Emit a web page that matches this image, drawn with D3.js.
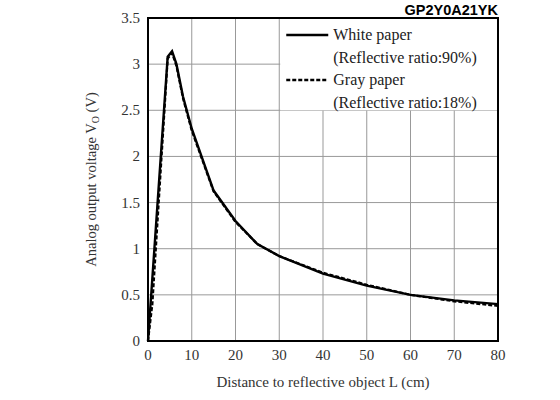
<!DOCTYPE html><html><head><meta charset="utf-8"><script src="https://cdn.jsdelivr.net/npm/d3@7"></script>
<style>body{margin:0;background:#fff}</style></head><body><svg id="c" width="560" height="400"></svg>
<script>
const xTicks=[0,10,20,30,40,50,60,70,80];
const yTicks=[0,0.5,1,1.5,2,2.5,3,3.5];
const whiteX=[0,4.5,5.5,6.5,8,10,15,20,25,30,40,50,60,70,80];
const whiteY=[0,3.08,3.14,3.0,2.65,2.3,1.63,1.3,1.05,0.92,0.73,0.6,0.5,0.44,0.4];
const grayX=[0,1,4.5,5.5,6.5,8,10,15,20,25,30,40,50,60,70,80];
const grayY=[0,0.4,3.06,3.12,2.98,2.63,2.28,1.62,1.29,1.05,0.92,0.74,0.61,0.5,0.43,0.38];
const svg=d3.select("#c");
const L=148,R=498,T=18,B=341;
const x=d3.scaleLinear().domain([0,80]).range([L,R]);
const y=d3.scaleLinear().domain([0,3.5]).range([B,T]);
const g=svg.append("g");
xTicks.slice(1,-1).forEach(t=>g.append("line").attr("x1",x(t)).attr("x2",x(t)).attr("y1",T).attr("y2",B).attr("stroke","#999"));
yTicks.slice(1,-1).forEach(t=>g.append("line").attr("x1",L).attr("x2",R).attr("y1",y(t)).attr("y2",y(t)).attr("stroke","#999"));
svg.append("rect").attr("x",x(30)+1).attr("y",T+1).attr("width",x(80)-x(30)-2).attr("height",y(2.5)-T-1).attr("fill","#fff");
const line=(xs,ys)=>d3.line().x((d,i)=>x(xs[i])).y(d=>y(d))(ys);
svg.append("path").attr("d",line(grayX,grayY)).attr("fill","none").attr("stroke","#000").attr("stroke-width",2.2).attr("stroke-dasharray","4,2");
svg.append("path").attr("d",line(whiteX,whiteY)).attr("fill","none").attr("stroke","#000").attr("stroke-width",2.4);
svg.append("rect").attr("x",L).attr("y",T).attr("width",R-L).attr("height",B-T).attr("fill","none").attr("stroke","#000").attr("stroke-width",2);
const f="'Liberation Serif',serif";
xTicks.forEach(t=>svg.append("text").attr("x",x(t)).attr("y",B+19).attr("text-anchor","middle").attr("font-family",f).attr("font-size",15).attr("fill","#333").text(t));
yTicks.forEach(t=>svg.append("text").attr("x",L-8).attr("y",y(t)+5).attr("text-anchor","end").attr("font-family",f).attr("font-size",15).attr("fill","#333").text(t));
svg.append("text").attr("x",(L+R)/2).attr("y",387).attr("text-anchor","middle").attr("font-family",f).attr("font-size",15).attr("fill","#333").text("Distance to reflective object L (cm)");
const yl=svg.append("text").attr("transform",`translate(96,${(T+B)/2}) rotate(-90)`).attr("text-anchor","middle").attr("font-family",f).attr("font-size",14.5).attr("fill","#333");
yl.append("tspan").text("Analog output voltage V");yl.append("tspan").attr("font-size",10).attr("dy",3).text("O");yl.append("tspan").attr("dy",-3).text(" (V)");
svg.append("text").attr("x",R).attr("y",15).attr("text-anchor","end").attr("font-family","'Liberation Sans',Arial,sans-serif").attr("font-weight","bold").attr("font-size",14.5).text("GP2Y0A21YK");
const lx=x(30)+7;
svg.append("line").attr("x1",lx).attr("x2",lx+42).attr("y1",35).attr("y2",35).attr("stroke","#000").attr("stroke-width",2.4);
svg.append("line").attr("x1",lx).attr("x2",lx+42).attr("y1",80).attr("y2",80).attr("stroke","#000").attr("stroke-width",2.4).attr("stroke-dasharray","4,2");
[["White paper",40],["(Reflective ratio:90%)",63],["Gray paper",85],["(Reflective ratio:18%)",108]].forEach(([t,yy])=>svg.append("text").attr("x",lx+47).attr("y",yy).attr("font-family",f).attr("font-size",16).attr("fill","#222").text(t));
</script></body></html>
